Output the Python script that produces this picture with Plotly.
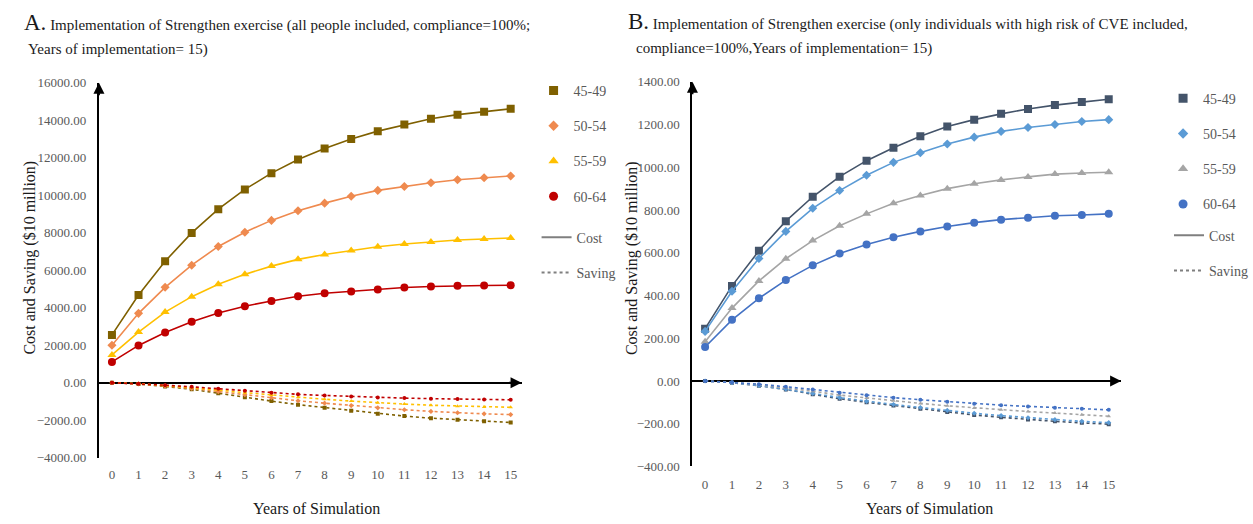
import plotly.graph_objects as go

W, H = 1253, 524
years = list(range(16))
groups = ["45-49", "50-54", "55-59", "60-64"]
symbols = ["square", "diamond", "triangle-up", "circle"]
msizes = [8, 7, 8, 8]

# Panel A (all people included) - cost and saving
costA_45 = [2550, 4680, 6480, 7990, 9260, 10310, 11180, 11910, 12490, 13000, 13420, 13770, 14080, 14300, 14450, 14610]
costA_50 = [2000, 3700, 5090, 6270, 7270, 8030, 8660, 9170, 9580, 9950, 10260, 10470, 10670, 10830, 10930, 11030]
costA_55 = [1480, 2700, 3770, 4590, 5250, 5780, 6220, 6580, 6840, 7050, 7250, 7400, 7510, 7610, 7670, 7720]
costA_60 = [1110, 1990, 2680, 3250, 3720, 4080, 4360, 4610, 4770, 4870, 4970, 5080, 5130, 5170, 5190, 5200]
saveA_45 = [0, -70, -200, -350, -560, -780, -980, -1170, -1330, -1500, -1660, -1780, -1890, -1980, -2060, -2120]
saveA_50 = [0, -60, -170, -300, -470, -640, -800, -960, -1090, -1220, -1340, -1440, -1530, -1600, -1660, -1700]
saveA_55 = [0, -50, -150, -260, -390, -530, -660, -780, -880, -980, -1070, -1140, -1200, -1250, -1290, -1310]
saveA_60 = [0, -50, -130, -220, -320, -430, -530, -620, -680, -740, -790, -820, -850, -870, -890, -910]

# Panel B (high risk of CVE only) - cost and saving
costB_45 = [245, 445, 609, 748, 862, 956, 1031, 1091, 1145, 1191, 1223, 1250, 1273, 1291, 1305, 1318]
costB_50 = [232, 420, 573, 700, 808, 891, 963, 1023, 1068, 1109, 1141, 1168, 1186, 1200, 1214, 1223]
costB_55 = [184, 341, 468, 572, 657, 726, 782, 832, 868, 900, 923, 941, 955, 968, 973, 977]
costB_60 = [159, 286, 387, 472, 541, 597, 639, 673, 700, 723, 741, 755, 764, 773, 777, 782]
saveB_45 = [0, -8, -22, -40, -62, -83, -100, -115, -130, -145, -159, -170, -180, -189, -196, -202]
saveB_50 = [0, -8, -21, -38, -58, -78, -95, -110, -124, -138, -151, -162, -172, -181, -189, -195]
saveB_55 = [0, -7, -18, -32, -48, -66, -80, -93, -105, -116, -126, -135, -143, -150, -158, -165]
saveB_60 = [0, -6, -15, -27, -40, -55, -67, -78, -88, -97, -106, -113, -119, -125, -130, -135]

colorsA = ["#7f6000", "#ef8a4f", "#ffc000", "#c00000"]
colorsB = ["#44546a", "#5b9bd5", "#a5a5a5", "#4472c4"]

FONT = "Liberation Serif"
GRAY = "#595959"

fig = go.Figure()

def add_panel(costs, saves, colors, xa, ya):
    for i in range(4):
        fig.add_trace(go.Scatter(x=years, y=saves[i], mode="lines+markers", xaxis=xa, yaxis=ya,
                                 line=dict(color=colors[i], width=1.6, dash="dot"),
                                 marker=dict(symbol=symbols[i], size=4, color=colors[i]),
                                 showlegend=False, hoverinfo="skip"))
    for i in range(4):
        fig.add_trace(go.Scatter(x=years, y=costs[i], mode="lines+markers", xaxis=xa, yaxis=ya,
                                 line=dict(color=colors[i], width=1.6),
                                 marker=dict(symbol=symbols[i], size=msizes[i], color=colors[i]),
                                 showlegend=False, name=groups[i]))

add_panel([costA_45, costA_50, costA_55, costA_60], [saveA_45, saveA_50, saveA_55, saveA_60], colorsA, "x", "y")
add_panel([costB_45, costB_50, costB_55, costB_60], [saveB_45, saveB_50, saveB_55, saveB_60], colorsB, "x2", "y2")

# legend entries
def add_legend(colors, lg_m, lg_l, xa, ya):
    for i in range(4):
        fig.add_trace(go.Scatter(x=[None], y=[None], mode="markers", name=groups[i], xaxis=xa, yaxis=ya,
                                 marker=dict(symbol=symbols[i], size=msizes[i] + 1, color=colors[i]),
                                 legend=lg_m, legendgroup=lg_m + groups[i], showlegend=True))
    fig.add_trace(go.Scatter(x=[None], y=[None], mode="lines", name="Cost", xaxis=xa, yaxis=ya,
                             line=dict(color="#7f7f7f", width=2), legend=lg_l, legendgroup=lg_l + "c"))
    fig.add_trace(go.Scatter(x=[None], y=[None], mode="lines", name="Saving", xaxis=xa, yaxis=ya,
                             line=dict(color="#7f7f7f", width=2, dash="dot"), legend=lg_l, legendgroup=lg_l + "s"))

add_legend(colorsA, "legend", "legend2", "x", "y")
add_legend(colorsB, "legend3", "legend4", "x2", "y2")

def px_x(p):
    return p / W

def px_y(p):
    return 1 - p / H

leg_common = dict(xanchor="left", yanchor="top", bgcolor="rgba(0,0,0,0)",
                  font=dict(family=FONT, size=14, color=GRAY), tracegroupgap=14)

axis_font = dict(family=FONT, size=13, color=GRAY)

xA = [-0.49, 15.41]
yA = [-4000, 16000]
xB = [-0.47, 15.46]
yB = [-400, 1400]

fig.update_layout(
    width=W, height=H, margin=dict(l=0, r=0, t=0, b=0),
    paper_bgcolor="white", plot_bgcolor="white",
    font=dict(family=FONT),
    xaxis=dict(domain=[px_x(99), px_x(522)], range=xA, tickvals=years, showgrid=False, zeroline=False,
               showline=False, ticks="", ticklabelstandoff=7, tickfont=axis_font),
    yaxis=dict(domain=[px_y(464), px_y(78)], range=yA, dtick=2000, tickformat=".2f", showgrid=False,
               showline=True, linecolor="black", linewidth=2, zeroline=True, zerolinecolor="black",
               zerolinewidth=2, ticks="", ticklabelstandoff=8, tickfont=axis_font),
    xaxis2=dict(domain=[px_x(693), px_x(1122)], range=xB, tickvals=years, showgrid=False, zeroline=False,
                showline=False, ticks="", ticklabelstandoff=9, tickfont=axis_font, anchor="y2"),
    yaxis2=dict(domain=[px_y(473), px_y(77)], range=yB, dtick=200, tickformat=".2f", showgrid=False,
                showline=True, linecolor="black", linewidth=2, zeroline=True, zerolinecolor="black",
                zerolinewidth=2, ticks="", ticklabelstandoff=8, tickfont=axis_font, anchor="x2"),
    legend=dict(x=px_x(534), y=px_y(70), **leg_common),
    legend2=dict(x=px_x(537), y=px_y(221), **leg_common),
    legend3=dict(x=px_x(1164), y=px_y(78), **leg_common),
    legend4=dict(x=px_x(1170), y=px_y(219), **leg_common),
)

ann = []
# axis arrows
for xr, yr, rx, ry in [("x", "y", xA, yA), ("x2", "y2", xB, yB)]:
    ann.append(dict(x=rx[1], y=0, xref=xr, yref=yr, ax=-14, ay=0, showarrow=True, arrowhead=2,
                    arrowsize=1.1, arrowwidth=2, arrowcolor="black", text=""))
    ann.append(dict(x=rx[0], y=ry[1], xref=xr, yref=yr, ax=0, ay=14, showarrow=True, arrowhead=2,
                    arrowsize=1.1, arrowwidth=2, arrowcolor="black", text=""))

tfont = dict(family=FONT, size=15, color="#1a1a1a")
ttl = dict(family=FONT, size=16, color="#1a1a1a")
ann += [
    dict(x=px_x(22), y=px_y(16), xref="paper", yref="paper", xanchor="left", yanchor="middle", showarrow=False,
         text="<span style='font-size:23px'>A.</span> Implementation of Strengthen exercise (all people included, compliance=100%;",
         font=tfont),
    dict(x=px_x(26), y=px_y(44), xref="paper", yref="paper", xanchor="left", yanchor="middle", showarrow=False,
         text="Years of implementation= 15)", font=tfont),
    dict(x=px_x(626), y=px_y(15), xref="paper", yref="paper", xanchor="left", yanchor="middle", showarrow=False,
         text="<span style='font-size:23px'>B.</span> Implementation of Strengthen exercise (only individuals with high risk of CVE included,",
         font=tfont),
    dict(x=px_x(635), y=px_y(43), xref="paper", yref="paper", xanchor="left", yanchor="middle", showarrow=False,
         text="compliance=100%,Years of implementation= 15)", font=tfont),
    # axis titles
    dict(x=px_x(30), y=px_y(258), xref="paper", yref="paper", xanchor="center", yanchor="middle",
         textangle=-90, showarrow=False, text="Cost and Saving ($10 million)", font=ttl),
    dict(x=px_x(632), y=px_y(258), xref="paper", yref="paper", xanchor="center", yanchor="middle",
         textangle=-90, showarrow=False, text="Cost and Saving ($10 million)", font=ttl),
    dict(x=px_x(317), y=px_y(516), xref="paper", yref="paper", xanchor="center", yanchor="middle",
         showarrow=False, text="Years of Simulation", font=ttl),
    dict(x=px_x(930), y=px_y(516), xref="paper", yref="paper", xanchor="center", yanchor="middle",
         showarrow=False, text="Years of Simulation", font=ttl),
]
fig.update_layout(annotations=ann)

fig.write_html("out.html", config={"displayModeBar": False},
               post_script="document.body.style.margin='0';document.body.style.overflow='hidden';")
